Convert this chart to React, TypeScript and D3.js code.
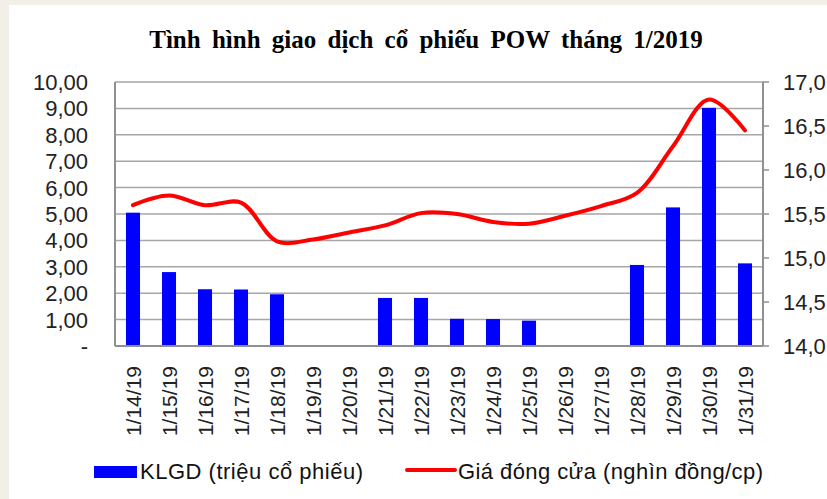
import React, { useEffect, useRef } from 'react';
import * as d3 from 'd3';

// data
const dates = ['1/14/19', '1/15/19', '1/16/19', '1/17/19', '1/18/19', '1/19/19', '1/20/19', '1/21/19', '1/22/19',
  '1/23/19', '1/24/19', '1/25/19', '1/26/19', '1/27/19', '1/28/19', '1/29/19', '1/30/19', '1/31/19'];
const volume = [5.05, 2.8, 2.15, 2.14, 1.96, 0, 0, 1.82, 1.82, 1.03, 1.02, 0.96, 0, 0, 3.07, 5.25, 9.02, 3.13];
const price = [15.6, 15.71, 15.6, 15.63, 15.19, 15.21, 15.29, 15.37, 15.51, 15.5, 15.41, 15.39, 15.48, 15.59, 15.74, 16.27, 16.8, 16.45];
const leftTicks = [0, 1, 2, 3, 4, 5, 6, 7, 8, 9, 10];
const rightTicks = [14, 14.5, 15, 15.5, 16, 16.5, 17];

const title = 'Tình hình giao dịch cổ phiếu POW tháng 1/2019';
const barLabel = 'KLGD (triệu cổ phiếu)';
const lineLabel = 'Giá đóng cửa (nghìn đồng/cp)';

const App = () => {
  const ref = useRef<SVGSVGElement>(null);

  useEffect(() => {
    const width = 827;
    const height = 499;
    const margin = { top: 82, right: 64, bottom: 153, left: 115 };
    const font = 'Liberation Sans, Arial, sans-serif';

    const svg = d3.select(ref.current);
    svg.selectAll('*').remove();

    // page background and white panel
    svg.append('rect').attr('width', width).attr('height', height).attr('fill', '#f2efe9');
    svg.append('rect').attr('x', 9).attr('y', 5).attr('width', width).attr('height', height).attr('fill', '#fff');

    const x = d3.scaleBand()
      .domain(dates)
      .range([margin.left, width - margin.right])
      .paddingInner(0.61)
      .paddingOuter(0.305);

    const yLeft = d3.scaleLinear().domain([0, 10]).range([height - margin.bottom, margin.top]);
    const yRight = d3.scaleLinear().domain([14, 17]).range([height - margin.bottom, margin.top]);

    const x0 = margin.left;
    const x1 = width - margin.right;

    // gridlines
    svg.append('g')
      .selectAll('line')
      .data(leftTicks)
      .enter().append('line')
      .attr('x1', x0).attr('x2', x1)
      .attr('y1', d => yLeft(d)).attr('y2', d => yLeft(d))
      .attr('stroke', '#a6a6a6')
      .attr('stroke-width', 1.5);

    // left labels
    svg.append('g')
      .selectAll('text')
      .data(leftTicks)
      .enter().append('text')
      .attr('x', 88)
      .attr('y', d => yLeft(d))
      .attr('dy', '0.36em')
      .attr('text-anchor', 'end')
      .attr('font-family', font)
      .attr('font-size', 22)
      .attr('fill', '#222')
      .text(d => (d === 0 ? '-' : d3.format('.2f')(d).replace('.', ',')));

    // bars
    svg.append('g')
      .selectAll('rect')
      .data(volume)
      .enter().append('rect')
      .attr('x', (d, i) => x(dates[i]) as number)
      .attr('width', x.bandwidth())
      .attr('y', d => yLeft(d))
      .attr('height', d => yLeft(0) - yLeft(d))
      .attr('fill', '#0000ff');

    // axis lines
    svg.append('line')
      .attr('x1', x0).attr('x2', x0)
      .attr('y1', margin.top).attr('y2', height - margin.bottom)
      .attr('stroke', '#909090').attr('stroke-width', 2);
    svg.append('line')
      .attr('x1', x0).attr('x2', x1)
      .attr('y1', height - margin.bottom).attr('y2', height - margin.bottom)
      .attr('stroke', '#909090').attr('stroke-width', 2);
    svg.append('line')
      .attr('x1', x1).attr('x2', x1)
      .attr('y1', margin.top).attr('y2', height - margin.bottom)
      .attr('stroke', '#909090').attr('stroke-width', 2);

    // right axis ticks and labels
    const right = svg.append('g');
    right.selectAll('line')
      .data(rightTicks)
      .enter().append('line')
      .attr('x1', x1).attr('x2', x1 + 6)
      .attr('y1', d => yRight(d)).attr('y2', d => yRight(d))
      .attr('stroke', '#909090').attr('stroke-width', 1.5);
    right.selectAll('text')
      .data(rightTicks)
      .enter().append('text')
      .attr('x', 783)
      .attr('y', d => yRight(d))
      .attr('dy', '0.36em')
      .attr('font-family', font)
      .attr('font-size', 22)
      .attr('fill', '#222')
      .text(d => d3.format('.1f')(d).replace('.', ','));

    // price line
    const line = d3.line<number>()
      .x((d, i) => (x(dates[i]) as number) + x.bandwidth() / 2)
      .y(d => yRight(d))
      .curve(d3.curveCatmullRom.alpha(0.5));
    svg.append('path')
      .datum(price)
      .attr('d', line)
      .attr('fill', 'none')
      .attr('stroke', '#ff0000')
      .attr('stroke-width', 4)
      .attr('stroke-linecap', 'round');

    // x labels, rotated
    svg.append('g')
      .selectAll('text')
      .data(dates)
      .enter().append('text')
      .attr('transform', d => `translate(${(x(d) as number) + x.bandwidth() / 2},366) rotate(-90)`)
      .attr('dy', '0.36em')
      .attr('text-anchor', 'end')
      .attr('font-family', font)
      .attr('font-size', 21)
      .attr('fill', '#222')
      .text(d => d);

    // title
    svg.append('text')
      .attr('x', 426)
      .attr('y', 48)
      .attr('text-anchor', 'middle')
      .attr('font-family', 'Liberation Serif, Times New Roman, serif')
      .attr('font-weight', 'bold')
      .attr('font-size', 25)
      .attr('word-spacing', 5)
      .attr('fill', '#000')
      .text(title);

    // legend
    svg.append('rect').attr('x', 94).attr('y', 466).attr('width', 43).attr('height', 12).attr('fill', '#0000ff');
    svg.append('text')
      .attr('x', 140).attr('y', 479)
      .attr('font-family', font).attr('font-size', 22).attr('fill', '#111')
      .attr('textLength', 223).attr('lengthAdjust', 'spacing')
      .text(barLabel);
    svg.append('line')
      .attr('x1', 407).attr('x2', 455).attr('y1', 470).attr('y2', 470)
      .attr('stroke', '#ff0000').attr('stroke-width', 4).attr('stroke-linecap', 'round');
    svg.append('text')
      .attr('x', 458).attr('y', 479)
      .attr('font-family', font).attr('font-size', 22).attr('fill', '#111')
      .attr('textLength', 305).attr('lengthAdjust', 'spacing')
      .text(lineLabel);
  }, []);

  return (
    <svg
      ref={ref}
      width={827}
      height={499}
      style={{ position: 'absolute', left: 0, top: 0, display: 'block' }}
    />
  );
};

export default App;
